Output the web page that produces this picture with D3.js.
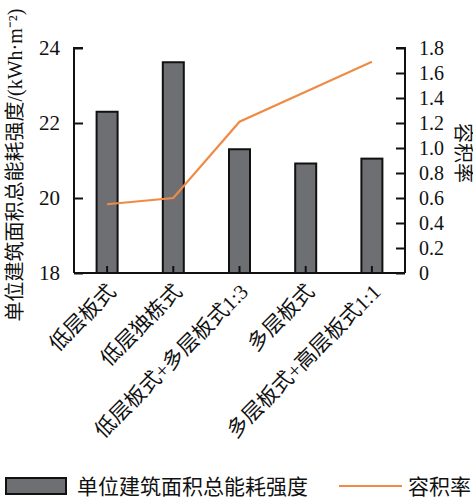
<!DOCTYPE html>
<html>
<head>
<meta charset="utf-8">
<script src="https://cdn.jsdelivr.net/npm/d3@7"></script>
<style>
  html, body { margin: 0; padding: 0; background: #fff; }
  svg { display: block; font-family: "Liberation Serif", "Noto Sans CJK SC", serif; }
</style>
</head>
<body>
<svg id="chart" width="473" height="498"></svg>
<script>
// Building layout types
const categories = ["低层板式", "低层独栋式", "低层板式+多层板式1:3", "多层板式", "多层板式+高层板式1:1"];
// Total energy intensity per unit building area (kWh·m^-2)
const energyIntensity = [22.3, 23.62, 21.3, 20.92, 21.05];
// Floor area ratio
const floorAreaRatio = [0.55, 0.6, 1.21, 1.45, 1.69];
const leftTicks = [18, 20, 22, 24];
const rightTicks = [0, 0.2, 0.4, 0.6, 0.8, 1.0, 1.2, 1.4, 1.6, 1.8];
const leftTitle = "单位建筑面积总能耗强度/(kWh·m⁻²)";
const rightTitle = "容积率";
const legendLabels = ["单位建筑面积总能耗强度", "容积率"];

const svg = d3.select("#chart");
const plot = { left: 74, right: 405, top: 48, bottom: 273 };

const x = d3.scaleBand().domain(categories).range([plot.left, plot.right]).paddingInner(0.67).paddingOuter(0.335);
const xc = d3.scaleBand().domain(categories).range([plot.left, plot.right]);
const yL = d3.scaleLinear().domain([18, 24]).range([plot.bottom, plot.top]);
const yR = d3.scaleLinear().domain([0, 1.8]).range([plot.bottom, plot.top]);

const barFill = "#6e6f73";
const lineColor = "#ef8b45";

// Bars
svg.append("g").selectAll("rect").data(energyIntensity).join("rect")
  .attr("x", (d, i) => xc(categories[i]) + xc.bandwidth() / 2 - 10.5)
  .attr("width", 21)
  .attr("y", d => yL(d))
  .attr("height", d => plot.bottom - yL(d))
  .attr("fill", barFill)
  .attr("stroke", "#111")
  .attr("stroke-width", 2);

// Floor area ratio line
const line = d3.line()
  .x((d, i) => xc(categories[i]) + xc.bandwidth() / 2)
  .y(d => yR(d));
svg.append("path").datum(floorAreaRatio)
  .attr("d", line)
  .attr("fill", "none")
  .attr("stroke", lineColor)
  .attr("stroke-width", 2.2);

// Left axis
const axL = svg.append("g").attr("transform", `translate(${plot.left},0)`)
  .call(d3.axisLeft(yL).tickValues(leftTicks).tickSize(-9).tickPadding(14).tickFormat(d3.format("d")));
axL.select(".domain").attr("d", `M9,${plot.top}H0V${plot.bottom}`);
axL.selectAll("line").attr("stroke", "#111").attr("stroke-width", 2);
axL.select(".domain").attr("stroke", "#111").attr("stroke-width", 2);
axL.selectAll("text").attr("font-size", 21).attr("fill", "#111").attr("font-family", "Liberation Serif");

// Right axis
const axR = svg.append("g").attr("transform", `translate(${plot.right},0)`)
  .call(d3.axisRight(yR).tickValues(rightTicks).tickSize(-9).tickPadding(14)
    .tickFormat(d => d === 0 ? "0" : d3.format(".1f")(d)));
axR.select(".domain").attr("d", `M-9,${plot.top}H0V${plot.bottom}`);
axR.selectAll("line").attr("stroke", "#111").attr("stroke-width", 2);
axR.select(".domain").attr("stroke", "#111").attr("stroke-width", 2);
axR.selectAll("text").attr("font-size", 20).attr("fill", "#111").attr("font-family", "Liberation Serif");

// Bottom axis
const axB = svg.append("g").attr("transform", `translate(0,${plot.bottom})`)
  .call(d3.axisBottom(xc).tickSize(-7).tickFormat(""));
axB.select(".domain").attr("d", `M${plot.left},0H${plot.right}`).attr("stroke", "#111").attr("stroke-width", 2);
axB.selectAll("line").attr("stroke", "#111").attr("stroke-width", 2);

// Rotated category labels
svg.append("g").selectAll("text").data(categories).join("text")
  .attr("transform", d => `translate(${xc(d) + xc.bandwidth() / 2 + 10},${plot.bottom + 20}) rotate(-45)`)
  .attr("text-anchor", "end")
  .attr("font-size", 21)
  .attr("fill", "#111")
  .text(d => d);

// Axis titles
svg.append("text")
  .attr("transform", `translate(22,165) rotate(-90)`)
  .attr("text-anchor", "middle")
  .attr("font-size", 20)
  .attr("fill", "#111")
  .text(leftTitle);

svg.append("text")
  .attr("transform", `translate(456,153) rotate(90)`)
  .attr("text-anchor", "middle")
  .attr("font-size", 20)
  .attr("fill", "#111")
  .text(rightTitle);

// Legend
const lg = svg.append("g");
lg.append("rect").attr("x", 6).attr("y", 478).attr("width", 60).attr("height", 16)
  .attr("fill", barFill).attr("stroke", "#111").attr("stroke-width", 2);
lg.append("text").attr("x", 77).attr("y", 494).attr("font-size", 21).attr("fill", "#111").text(legendLabels[0]);
lg.append("line").attr("x1", 339).attr("x2", 402).attr("y1", 486).attr("y2", 486)
  .attr("stroke", lineColor).attr("stroke-width", 2);
lg.append("text").attr("x", 408).attr("y", 494).attr("font-size", 21).attr("fill", "#111").text(legendLabels[1]);
</script>
</body>
</html>
